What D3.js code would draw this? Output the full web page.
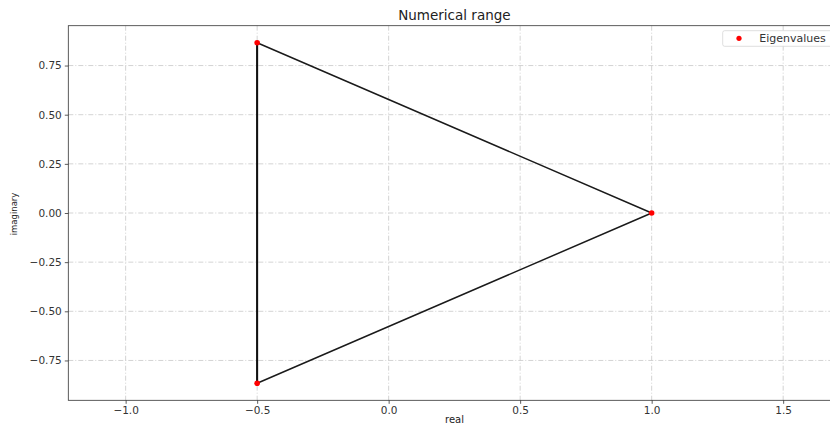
<!DOCTYPE html>
<html><head><meta charset="utf-8">
<script src="https://cdn.jsdelivr.net/npm/d3@7"></script>
<style>body{margin:0;background:#fff;overflow:hidden;} text{font-family:"DejaVu Sans",sans-serif;}</style>
</head><body><svg id="c" width="830" height="425"></svg>
<script>
const eigenReal = [1, -0.5, -0.5];
const eigenImag = [0, 0.866, -0.866];
const boundaryReal = [-0.5, 1, -0.5, -0.5];
const boundaryImag = [0.866, 0, -0.866, 0.866];
const xTicks = [-1.0, -0.5, 0.0, 0.5, 1.0, 1.5];
const yTicks = [-0.75, -0.5, -0.25, 0.0, 0.25, 0.5, 0.75];

const svg = d3.select("#c");
const L = 68.3, R = 840.5, T = 25.7, B = 400.3;
const x = d3.scaleLinear().domain([-1.218, 1.718]).range([L, R]);
const y = d3.scaleLinear().domain([-0.9526, 0.9526]).range([B, T]);

const grid = svg.append("g").attr("stroke", "#c8c8c8").attr("stroke-width", 0.8).attr("stroke-dasharray", "5,2,1,2");
grid.selectAll(".gx").data(xTicks).join("line").attr("x1", d => x(d)).attr("x2", d => x(d)).attr("y1", T).attr("y2", B);
grid.selectAll(".gy").data(yTicks).join("line").attr("y1", d => y(d)).attr("y2", d => y(d)).attr("x1", L).attr("x2", R);

const fmtX = d => d3.format(".1f")(d).replace("-", "\u2212");
const fmtY = d => d3.format(".2f")(d).replace("-", "\u2212");
const gx = svg.append("g").attr("transform", `translate(0,${B})`).call(d3.axisBottom(x).tickValues(xTicks).tickFormat(fmtX).tickSize(3.5).tickPadding(3));
const gy = svg.append("g").attr("transform", `translate(${L},0)`).call(d3.axisLeft(y).tickValues(yTicks).tickFormat(fmtY).tickSize(3.5).tickPadding(3));
[gx, gy].forEach(g => {
  g.select(".domain").remove();
  g.selectAll("text").attr("font-size", 10.5).attr("fill", "#333").attr("font-family", "DejaVu Sans");
  g.selectAll("line").attr("stroke", "#333").attr("stroke-width", 0.8);
});

const line = d3.line().x(d => x(d[0])).y(d => y(d[1]));
const pts = boundaryReal.map((r, i) => [r, boundaryImag[i]]);
svg.append("path").attr("d", line(pts)).attr("fill", "none").attr("stroke", "#1a1a1a").attr("stroke-width", 1.5).attr("stroke-linejoin", "round");
svg.append("path").attr("d", line([pts[2], pts[3]])).attr("fill", "none").attr("stroke", "#111").attr("stroke-width", 2);

svg.selectAll(".ev").data(eigenReal).join("circle").attr("cx", d => x(d)).attr("cy", (d, i) => y(eigenImag[i])).attr("r", 2.8).attr("fill", "red");

// spines
svg.append("rect").attr("x", L).attr("y", T).attr("width", R - L).attr("height", B - T).attr("fill", "none").attr("stroke", "#333").attr("stroke-width", 0.8);

// legend
svg.append("rect").attr("x", 722.7).attr("y", 30.7).attr("width", 113).attr("height", 15.6).attr("rx", 2).attr("fill", "#fff").attr("fill-opacity", 0.8).attr("stroke", "#d6d6d6").attr("stroke-width", 0.8);
svg.append("circle").attr("cx", 739).attr("cy", 38.3).attr("r", 2.6).attr("fill", "red");
svg.append("text").attr("x", 759.3).attr("y", 42).attr("font-size", 11).attr("fill", "#333").text("Eigenvalues");

svg.append("text").attr("x", (L + R) / 2).attr("y", 20).attr("text-anchor", "middle").attr("font-size", 13.5).attr("fill", "#222").text("Numerical range");
svg.append("text").attr("x", 454.5).attr("y", 423).attr("text-anchor", "middle").attr("font-size", 10).attr("fill", "#222").text("real");
svg.append("text").attr("transform", "translate(17,214) rotate(-90)").attr("text-anchor", "middle").attr("font-size", 8.5).attr("fill", "#222").text("imaginary");
</script></body></html>
